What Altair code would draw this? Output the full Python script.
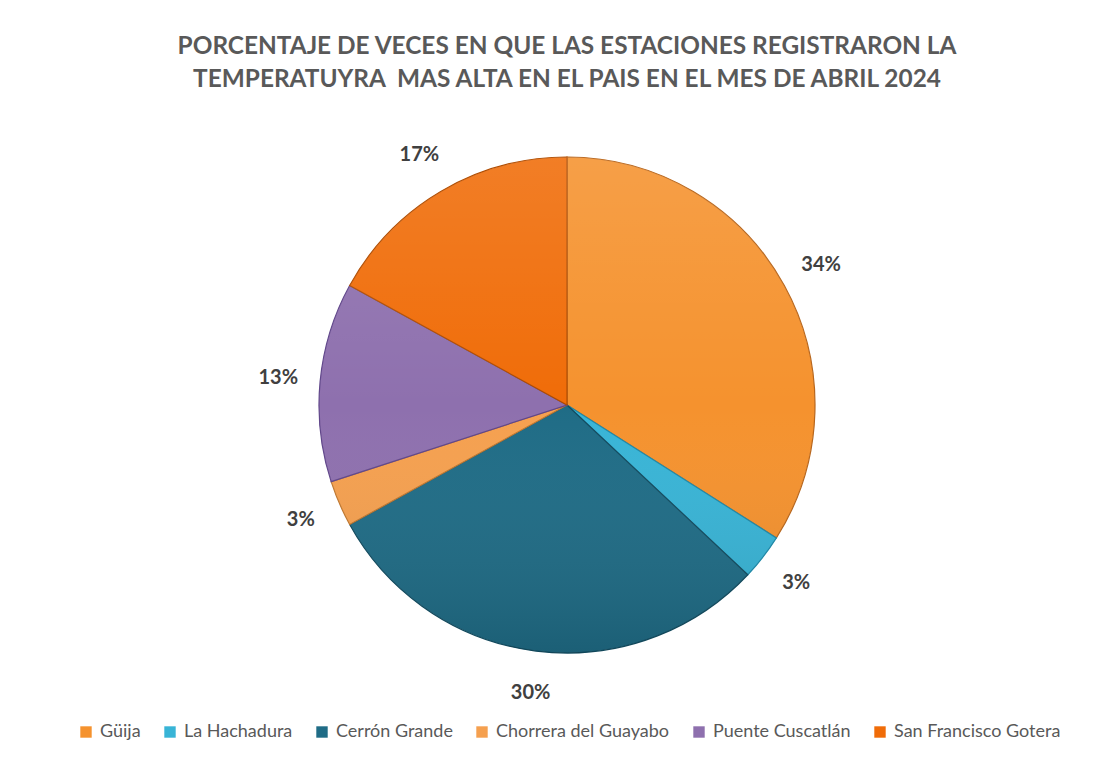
import altair as alt
import pandas as pd

categories = ["Güija", "La Hachadura", "Cerrón Grande", "Chorrera del Guayabo",
              "Puente Cuscatlán", "San Francisco Gotera"]
values = [34, 3, 30, 3, 13, 17]
labels = ["34%", "3%", "30%", "3%", "13%", "17%"]
fill_colors = ["#F5922E", "#38B4D6", "#1F6C86", "#F5A04F", "#8E70AE", "#F06C08"]
edge_colors = ["#B8661C", "#1E89A8", "#124A5E", "#C07830", "#60468A", "#B04C00"]
title_lines = ["PORCENTAJE DE VECES EN QUE LAS ESTACIONES REGISTRARON LA",
               "TEMPERATUYRA\u00a0 MAS ALTA EN EL PAIS EN EL MES DE ABRIL 2024"]

df = pd.DataFrame({
    "estacion": categories,
    "valor": values,
    "etiqueta": labels,
    "orden": list(range(len(categories))),
})

FONT = "Lato"
R = 248
PAD_L, PAD_T = 19, 57

base = alt.Chart(df).encode(
    theta=alt.Theta("valor:Q", stack=True),
    order=alt.Order("orden:Q"),
)

pie = base.mark_arc(outerRadius=R, strokeWidth=1.2).encode(
    color=alt.Color(
        "estacion:N",
        scale=alt.Scale(domain=categories, range=fill_colors),
        sort=categories,
        legend=alt.Legend(
            title=None,
            orient="none",
            direction="horizontal",
            legendX=50,
            legendY=658,
            symbolType="square",
            symbolSize=130,
            symbolStrokeWidth=0,
            labelFont=FONT,
            labelFontSize=18,
            labelColor="#595959",
            labelLimit=0,
            columnPadding=20,
            labelOffset=5,
        ),
    ),
    stroke=alt.Stroke(
        "estacion:N",
        scale=alt.Scale(domain=categories, range=edge_colors),
        legend=None,
    ),
)

shade_df = pd.DataFrame({"v": [1]})
shade = alt.Chart(shade_df).mark_arc(
    outerRadius=R,
    fill=alt.Gradient(
        gradient="linear",
        x1=0, y1=0, x2=0, y2=1,
        stops=[
            alt.GradientStop(offset=0, color="rgba(255,255,255,0.12)"),
            alt.GradientStop(offset=0.5, color="rgba(255,255,255,0.0)"),
            alt.GradientStop(offset=1, color="rgba(0,0,0,0.12)"),
        ],
    ),
).encode(theta=alt.Theta("v:Q", scale=alt.Scale(domain=[0, 1])))

text = base.mark_text(
    radius=290, font=FONT, fontSize=20, fontWeight="bold", color="#404040"
).encode(text="etiqueta:N")

chart = alt.layer(pie, shade, text).resolve_scale(theta="independent").properties(
    width=1080,
    height=680,
    autosize=alt.AutoSizeParams(type="none"),
    padding={"left": PAD_L, "top": PAD_T, "right": 0, "bottom": 6},
    title=alt.TitleParams(
        text=title_lines,
        font=FONT,
        fontSize=24.4,
        fontWeight="bold",
        color="#595959",
        anchor="middle",
        lineHeight=33,
        offset=-27,
    ),
).configure_view(strokeWidth=0)

chart.save("out.html", embed_options={"renderer": "svg", "actions": False})
